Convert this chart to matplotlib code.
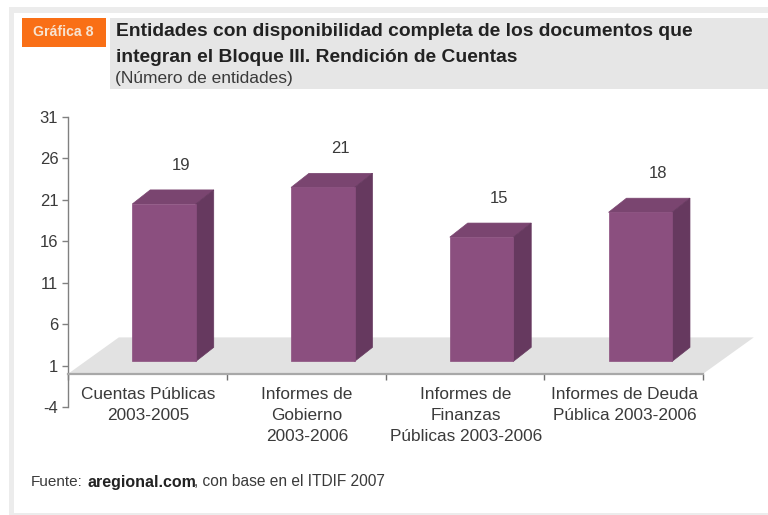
import matplotlib

matplotlib.use("Agg")
import matplotlib.pyplot as plt
from matplotlib.patches import Polygon, Rectangle

categories = [
    "Cuentas Públicas\n2003-2005",
    "Informes de\nGobierno\n2003-2006",
    "Informes de\nFinanzas\nPúblicas 2003-2006",
    "Informes de Deuda\nPública 2003-2006",
]
values = [19, 21, 15, 18]
y_ticks = [-4, 1, 6, 11, 16, 21, 26, 31]

W, H = 768, 515
FRONT = "#8b4f7f"
SIDE = "#66395f"
TOP = "#7a4570"
TEXT = "#3a3a3a"

# fake 3D offsets, in data units
bar_w = 0.40
shift = 0.105
lift = 1.5
dx = 0.113
dy = 1.7
floor_dx = 0.32
floor_dy = 4.4

plt.rcParams["font.family"] = ["Liberation Sans", "DejaVu Sans"]
plt.rcParams["axes.unicode_minus"] = False
fig = plt.figure(figsize=(W / 100, H / 100), dpi=100)

# page furniture in pixel coords
bg = fig.add_axes([0, 0, 1, 1])
bg.set_xlim(0, W)
bg.set_ylim(H, 0)
bg.axis("off")
bg.add_patch(Rectangle((9, 7), W - 9, 6, fc="#ececec", ec="none"))
bg.add_patch(Rectangle((9, 7), 5, H - 7, fc="#ececec", ec="none"))
bg.add_patch(Rectangle((9, 513), W - 9, 2, fc="#ececec", ec="none"))
bg.add_patch(Rectangle((110, 18), W - 110, 71, fc="#e6e6e6", ec="none"))
bg.add_patch(Rectangle((22, 18), 84, 29, fc="#f96f16", ec="none"))
bg.text(63, 32.5, "Gráfica 8", color="#f7e3d0", fontsize=10.2, weight="bold",
        ha="center", va="center")
bg.text(116, 32, "Entidades con disponibilidad completa de los documentos que",
        color="#222222", fontsize=13.9, weight="bold", va="center")
bg.text(116, 57, "integran el Bloque III. Rendición de Cuentas",
        color="#222222", fontsize=13.9, weight="bold", va="center")
bg.text(115, 78, "(Número de entidades)", color=TEXT, fontsize=12.5, va="center")
bg.text(31, 482, "Fuente:", color=TEXT, fontsize=11, va="center")
bg.text(87, 482, "aregional.com", color="#222222", fontsize=11.5, weight="bold", va="center")
bg.text(194, 482, ", con base en el ITDIF 2007", color=TEXT, fontsize=11.2, va="center")

ax = fig.add_axes([68 / W, 1 - 407 / H, 635 / W, 290 / H])
ax.patch.set_alpha(0)
ax.set_xlim(-0.5, 3.5)
ax.set_ylim(-4, 31)

# floor
ax.add_patch(Polygon(
    [(-0.5, 0), (3.5, 0), (3.5 + floor_dx, floor_dy), (-0.5 + floor_dx, floor_dy)],
    fc="#e2e2e2", ec="none", clip_on=False, zorder=1,
))

xs = [i + shift for i in range(len(values))]
ax.bar(xs, values, width=bar_w, bottom=lift, color=FRONT, edgecolor=FRONT, linewidth=0.5, zorder=3)
for x, v in zip(xs, values):
    left, right = x - bar_w / 2, x + bar_w / 2
    top = lift + v
    ax.add_patch(Polygon(
        [(left, top), (right, top), (right + dx, top + dy), (left + dx, top + dy)],
        fc=TOP, ec=TOP, lw=0.5, zorder=2.9,
    ))
    ax.add_patch(Polygon(
        [(right, lift), (right + dx, lift + dy), (right + dx, top + dy), (right, top)],
        fc=SIDE, ec=SIDE, lw=0.5, zorder=2.9,
    ))
    ax.text(x + 0.11, top + dy + 3, str(v), color=TEXT, fontsize=12,
            ha="center", va="center", zorder=4)

for spine in ("top", "right"):
    ax.spines[spine].set_visible(False)
ax.spines["left"].set_color("#808080")
ax.spines["left"].set_linewidth(1.0)
ax.spines["bottom"].set_position(("data", 0))
ax.spines["bottom"].set_color("#a8a8a8")
ax.spines["bottom"].set_linewidth(1.6)
ax.spines["bottom"].set_zorder(5)

ax.set_yticks(y_ticks)
ax.tick_params(axis="y", length=4, width=1, color="#808080", labelcolor=TEXT,
               labelsize=12, pad=3)
ax.set_xticks([i - 0.5 for i in range(len(values) + 1)])
ax.set_xticklabels([])
ax.tick_params(axis="x", length=4, width=1, color="#707070")

for i, label in enumerate(categories):
    ax.text(i + 0.005, -1.6, label, color=TEXT, fontsize=12.4, ha="center", va="top",
            linespacing=1.48)

fig.savefig("out.png", dpi=100)
